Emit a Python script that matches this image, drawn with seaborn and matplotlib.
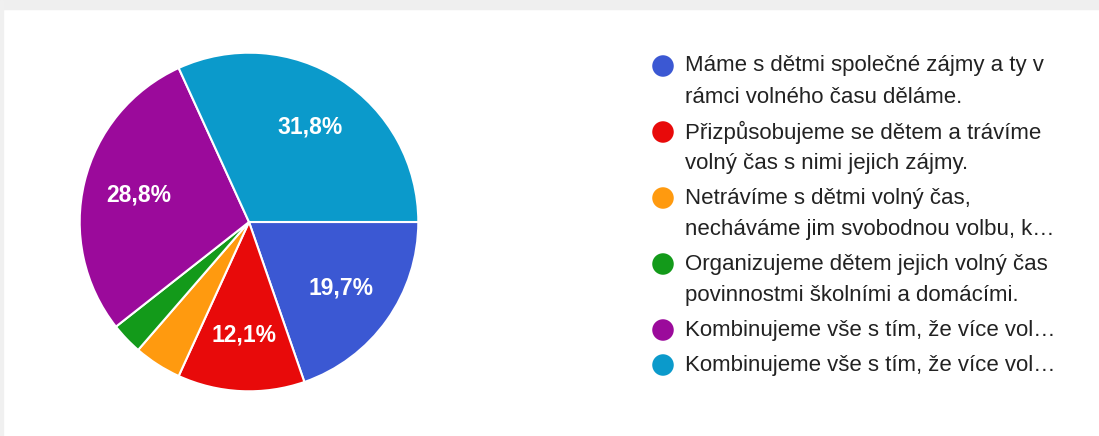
import matplotlib
matplotlib.use("Agg")
import matplotlib.pyplot as plt
import seaborn as sns
from matplotlib.patches import Rectangle

# data
answers = [
    "Máme s dětmi společné zájmy a ty v\nrámci volného času děláme.",
    "Přizpůsobujeme se dětem a trávíme\nvolný čas s nimi jejich zájmy.",
    "Netrávíme s dětmi volný čas,\nnecháváme jim svobodnou volbu, k…",
    "Organizujeme dětem jejich volný čas\npovinnostmi školními a domácími.",
    "Kombinujeme vše s tím, že více vol…",
    "Kombinujeme vše s tím, že více vol…",
]
counts = [13, 8, 3, 2, 19, 21]
colors = ["#3b58d3", "#e80a0a", "#ff9a0f", "#139a1a", "#9b0a9b", "#0b9acb"]

sns.set_theme(style="white")
plt.rcParams["font.family"] = ["Liberation Sans", "DejaVu Sans"]

W, H = 1099, 436
fig = plt.figure(figsize=(W / 100, H / 100), dpi=100)
fig.patch.set_facecolor("white")

# card shadow at the top and left
fig.patches.append(Rectangle((0, 1 - 9 / H), 1, 9 / H, transform=fig.transFigure,
                             color="#efefef", zorder=0))
fig.patches.append(Rectangle((0, 0), 3 / W, 1, transform=fig.transFigure,
                             color="#f0f0f0", zorder=0))

# pie
cx, cy, r = 249, 222, 171
ax = fig.add_axes([(cx - r) / W, (H - cy - r) / H, 2 * r / W, 2 * r / H])


def pct(p):
    if p < 5:
        return ""
    return f"{p:.1f}%".replace(".", ",")


wedges, texts, autotexts = ax.pie(
    counts, colors=colors, startangle=0, counterclock=False,
    autopct=pct, pctdistance=0.67, radius=1,
    wedgeprops=dict(edgecolor="white", linewidth=1.5),
    textprops=dict(color="white", fontsize=16.5, fontweight="bold"),
)
ax.set_xlim(-1.01, 1.01)
ax.set_ylim(-1.01, 1.01)
ax.set_aspect("equal")
ax.axis("off")

# legend drawn in pixel coordinates
lax = fig.add_axes([0, 0, 1, 1])
lax.set_xlim(0, W)
lax.set_ylim(H, 0)
lax.axis("off")
lax.patch.set_alpha(0)

y = 66
for label, color in zip(answers, colors):
    lax.scatter([663], [y], s=240, color=color, edgecolor="none")
    lines = label.split("\n")
    for i, line in enumerate(lines):
        lax.text(685, y + i * 31, line, fontsize=16, color="#222222",
                 va="center", ha="left")
    y += 31 * (len(lines) - 1) + 35

fig.savefig("out.png", dpi=100)
